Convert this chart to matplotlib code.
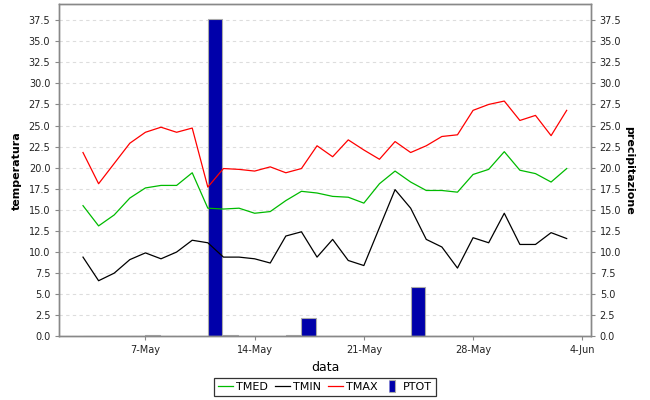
import pandas as pd
import matplotlib
matplotlib.use("Agg")
import matplotlib.pyplot as plt
import matplotlib.dates as mdates
from matplotlib.lines import Line2D

# daily values, 3 May - 3 June
dates = pd.date_range("2015-05-03", "2015-06-03", freq="D")

tmed = [15.5, 13.1, 14.4, 16.4, 17.6, 17.9, 17.9, 19.4, 15.2, 15.1, 15.2, 14.6,
        14.8, 16.1, 17.2, 17.0, 16.6, 16.5, 15.8, 18.1, 19.6, 18.3, 17.3, 17.3,
        17.1, 19.2, 19.8, 21.9, 19.7, 19.3, 18.3, 19.9]
tmin = [9.4, 6.6, 7.5, 9.1, 9.9, 9.2, 10.0, 11.4, 11.1, 9.4, 9.4, 9.2,
        8.7, 11.9, 12.4, 9.4, 11.5, 9.0, 8.4, 12.9, 17.4, 15.2, 11.5, 10.6,
        8.1, 11.7, 11.1, 14.6, 10.9, 10.9, 12.3, 11.6]
tmax = [21.8, 18.1, 20.5, 22.9, 24.2, 24.8, 24.2, 24.7, 17.7, 19.9, 19.8, 19.6,
        20.1, 19.4, 19.9, 22.6, 21.3, 23.3, 22.1, 21.0, 23.1, 21.8, 22.6, 23.7,
        23.9, 26.8, 27.5, 27.9, 25.6, 26.2, 23.8, 26.8]
ptot = [0.0, 0.0, 0.0, 0.0, 0.2, 0.0, 0.0, 0.0, 37.6, 0.2, 0.0, 0.0,
        0.0, 0.2, 2.2, 0.0, 0.0, 0.0, 0.0, 0.0, 0.0, 5.8, 0.0, 0.0,
        0.0, 0.0, 0.0, 0.0, 0.0, 0.0, 0.0, 0.0]

green = "#00BB00"
blue = "#0000AA"
grey = "#888888"

fig, ax = plt.subplots(figsize=(6.5, 4), dpi=100)
fig.subplots_adjust(left=0.0912, right=0.9088, top=0.989, bottom=0.159)
ax2 = ax.twinx()

# bars under the lines
ax.set_zorder(ax2.get_zorder() + 1)
ax.patch.set_visible(False)

ax2.bar(dates, ptot, width=0.93, align="edge", color=blue,
        edgecolor="#AAAAAA", linewidth=0.8)
ax2.grid(True, color="#DDDDDD", linestyle=(0, (3, 3)), linewidth=0.8)
ax2.set_axisbelow(True)

ax.plot(dates, tmed, color=green, lw=0.9)
ax.plot(dates, tmin, color="black", lw=0.9)
ax.plot(dates, tmax, color="red", lw=0.9)

ticks = [i * 2.5 for i in range(16)]
x0 = mdates.date2num(pd.Timestamp("2015-05-07")) - 5.52
x1 = mdates.date2num(pd.Timestamp("2015-06-04")) + 0.54
for a in (ax, ax2):
    a.set_ylim(0, 39.36)
    a.set_yticks(ticks)
    a.set_yticklabels([f"{t:.1f}" for t in ticks])
    a.set_xlim(x0, x1)
    a.tick_params(labelsize=7, colors=grey, labelcolor="#222222",
                  length=3, width=0.8)
    for s in a.spines.values():
        s.set_color(grey)
        s.set_linewidth(1)

ax.set_xticks(mdates.date2num(pd.date_range("2015-05-07", "2015-06-04", freq="7D")))
ax.xaxis.set_major_formatter(mdates.DateFormatter("%-d-%b"))

ax.set_xlabel("data", fontsize=9, labelpad=4)
ax.set_ylabel("temperatura", fontsize=8, fontweight="bold", labelpad=5)
ax2.set_ylabel("precipitazione", fontsize=8, fontweight="bold",
               rotation=270, labelpad=9)

handles = [
    Line2D([], [], color=green, lw=0.9),
    Line2D([], [], color="black", lw=0.9),
    Line2D([], [], color="red", lw=0.9),
    Line2D([], [], ls="none", marker=[(-0.5, -1), (0.5, -1), (0.5, 1), (-0.5, 1)],
           markersize=8, markerfacecolor=blue, markeredgecolor="#AAAAAA",
           markeredgewidth=0.8),
]
leg = fig.legend(handles, ["TMED", "TMIN", "TMAX", "PTOT"], loc="lower center",
                 bbox_to_anchor=(0.5, 0.004), ncol=4, fontsize=8,
                 frameon=True, fancybox=False, edgecolor="black",
                 handlelength=1.35, handletextpad=0.25, columnspacing=0.65,
                 borderpad=0.35, borderaxespad=0.2)
leg.get_frame().set_linewidth(0.9)

fig.savefig("out.png", dpi=100, facecolor="white")
